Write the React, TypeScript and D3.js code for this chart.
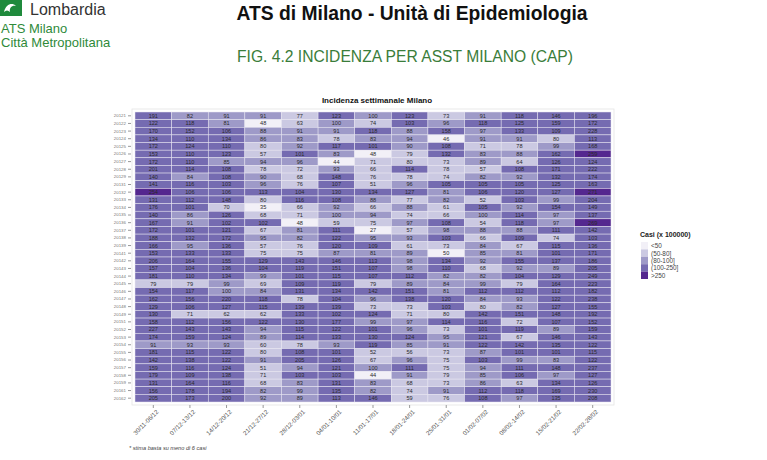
import React, { useEffect, useRef } from 'react';
import * as d3 from 'd3';

const WIDTH = 767;
const HEIGHT = 460;
const GRID = { left: 135, top: 112, right: 611, bottom: 402 };

const weeks = [
  '30/11-06/12', '07/12-13/12', '14/12-20/12', '21/12-27/12', '28/12-03/01',
  '04/01-10/01', '11/01-17/01', '18/01-24/01', '25/01-31/01', '01/02-07/02',
  '08/02-14/02', '15/02-21/02', '22/02-28/02',
];

const caps = [
  '20121', '20122', '20123', '20124', '20125', '20126', '20127', '20128', '20129',
  '20131', '20132', '20133', '20134', '20135', '20136', '20137', '20138', '20139',
  '20141', '20142', '20143', '20144', '20145', '20146', '20147', '20148', '20149',
  '20151', '20152', '20153', '20154', '20155', '20156', '20157', '20158', '20159',
  '20161', '20162',
];

// one row per CAP, one value per week
const incidence = [
  [191, 82, 91, 91, 77, 123, 100, 123, 73, 91, 118, 146, 196],
  [122, 118, 81, 48, 63, 100, 74, 103, 96, 118, 125, 159, 172],
  [170, 152, 106, 88, 91, 91, 118, 88, 158, 97, 133, 109, 228],
  [134, 110, 134, 86, 83, 78, 83, 94, 46, 91, 91, 80, 113],
  [172, 124, 110, 80, 92, 117, 101, 90, 108, 71, 78, 99, 168],
  [153, 110, 123, 57, 101, 83, 48, 79, 132, 83, 88, 162, 259],
  [172, 110, 85, 94, 96, 44, 71, 80, 73, 89, 64, 126, 124],
  [201, 114, 108, 78, 72, 93, 66, 114, 78, 57, 108, 171, 222],
  [140, 84, 108, 90, 68, 148, 76, 78, 74, 82, 92, 132, 174],
  [141, 116, 103, 96, 76, 107, 51, 96, 105, 105, 105, 125, 163],
  [254, 106, 106, 113, 104, 130, 134, 127, 81, 106, 120, 127, 271],
  [131, 112, 148, 80, 116, 108, 88, 77, 82, 52, 103, 99, 204],
  [176, 101, 70, 35, 66, 92, 66, 88, 61, 105, 92, 154, 149],
  [140, 86, 126, 68, 71, 100, 94, 74, 66, 100, 114, 97, 137],
  [167, 91, 102, 102, 48, 59, 75, 97, 108, 54, 118, 97, 269],
  [172, 101, 121, 67, 81, 111, 27, 57, 98, 88, 88, 111, 142],
  [188, 132, 172, 95, 82, 122, 95, 93, 103, 66, 109, 74, 103],
  [166, 95, 136, 57, 76, 120, 109, 61, 73, 84, 67, 115, 136],
  [153, 133, 133, 75, 75, 87, 81, 89, 50, 85, 81, 101, 171],
  [206, 164, 155, 129, 143, 146, 113, 98, 134, 92, 155, 137, 186],
  [157, 104, 136, 104, 119, 151, 107, 98, 110, 68, 92, 89, 205],
  [181, 110, 134, 99, 101, 115, 107, 112, 82, 82, 104, 129, 249],
  [79, 79, 99, 69, 109, 119, 79, 89, 84, 99, 79, 164, 223],
  [154, 117, 100, 84, 131, 134, 142, 151, 81, 112, 112, 112, 182],
  [162, 156, 220, 118, 78, 104, 96, 138, 120, 84, 93, 122, 238],
  [129, 106, 127, 115, 139, 139, 73, 73, 103, 80, 82, 127, 155],
  [130, 71, 62, 62, 133, 102, 124, 71, 80, 142, 151, 148, 192],
  [158, 112, 156, 122, 130, 177, 99, 97, 114, 116, 72, 107, 152],
  [227, 143, 143, 94, 115, 122, 101, 96, 73, 101, 119, 89, 159],
  [174, 159, 124, 89, 114, 133, 130, 124, 95, 121, 67, 146, 143],
  [91, 93, 93, 60, 78, 93, 119, 85, 91, 122, 142, 135, 122],
  [181, 115, 122, 80, 108, 101, 52, 56, 73, 87, 101, 101, 115],
  [142, 138, 122, 91, 205, 126, 67, 96, 75, 103, 99, 83, 122],
  [159, 116, 124, 51, 94, 121, 100, 111, 75, 94, 111, 148, 237],
  [179, 109, 138, 71, 103, 103, 44, 91, 79, 85, 106, 97, 127],
  [131, 164, 116, 68, 83, 131, 83, 68, 73, 86, 63, 134, 126],
  [156, 178, 194, 82, 99, 135, 82, 74, 91, 112, 118, 169, 230],
  [205, 173, 200, 92, 89, 113, 146, 59, 76, 108, 97, 135, 208],
];

const binLimits = [50, 80, 100, 250];
const binLabels = ['<50', '(50-80]', '(80-100]', '(100-250]', '>250'];
const binColors = ['#f2f0f7', '#cbc9e2', '#9e9ac8', '#756bb1', '#54278f'];

const FONT = 'Liberation Sans, Arial, sans-serif';

const App = () => {
  const chartRef = useRef(null);

  useEffect(() => {
    document.body.style.margin = '0';

    const root = d3.select(chartRef.current);
    root.selectAll('*').remove();

    const x = d3
      .scaleBand()
      .domain(weeks)
      .range([GRID.left, GRID.right]);

    const y = d3
      .scaleBand()
      .domain(caps)
      .range([GRID.top, GRID.bottom]);

    // bins are (a, b]
    const colorOf = (v) => binColors[d3.bisectLeft(binLimits, v)];

    const cells = caps.flatMap((cap, i) =>
      weeks.map((week, j) => ({ cap, week, value: incidence[i][j] }))
    );

    // panel frame
    root
      .append('rect')
      .attr('x', GRID.left - 3)
      .attr('y', GRID.top - 3)
      .attr('width', GRID.right - GRID.left + 6)
      .attr('height', GRID.bottom - GRID.top + 6)
      .attr('fill', 'none')
      .attr('stroke', '#e4e4e4')
      .attr('stroke-width', 0.8);

    const g = root.append('g');

    g.selectAll('rect')
      .data(cells)
      .join('rect')
      .attr('x', (d) => x(d.week))
      .attr('y', (d) => y(d.cap))
      .attr('width', x.bandwidth())
      .attr('height', y.bandwidth())
      .attr('fill', (d) => colorOf(d.value))
      .attr('stroke', '#e9e7f1')
      .attr('stroke-width', 0.5);

    g.selectAll('text')
      .data(cells)
      .join('text')
      .attr('x', (d) => x(d.week) + x.bandwidth() / 2)
      .attr('y', (d) => y(d.cap) + y.bandwidth() / 2)
      .attr('dy', '0.35em')
      .attr('text-anchor', 'middle')
      .attr('font-size', 5.6)
      .attr('font-family', FONT)
      .attr('fill', '#2a2a2a')
      .text((d) => d.value);

    const yAxis = root
      .append('g')
      .attr('transform', `translate(${GRID.left - 4},0)`)
      .call(d3.axisLeft(y).tickSize(3).tickPadding(2));
    yAxis.select('.domain').remove();
    yAxis.selectAll('line').attr('stroke', '#999');
    yAxis
      .selectAll('text')
      .attr('font-size', 4.4)
      .attr('font-family', FONT)
      .attr('fill', '#777');

    const xAxis = root
      .append('g')
      .attr('transform', `translate(0,${GRID.bottom + 3})`)
      .call(d3.axisBottom(x).tickSize(3).tickPadding(2));
    xAxis.select('.domain').remove();
    xAxis.selectAll('line').attr('stroke', '#999');
    xAxis
      .selectAll('text')
      .attr('font-size', 6.2)
      .attr('font-family', FONT)
      .attr('fill', '#555')
      .attr('text-anchor', 'end')
      .attr('dx', '0.2em')
      .attr('dy', '0.6em')
      .attr('transform', 'rotate(-45)')
      .style('transform-box', 'fill-box')
      .style('transform-origin', '100% 0%');

    // chart title
    root
      .append('text')
      .attr('x', (GRID.left + GRID.right) / 2 + 4)
      .attr('y', 103)
      .attr('text-anchor', 'middle')
      .attr('font-size', 8)
      .attr('font-weight', 'bold')
      .attr('font-family', FONT)
      .attr('fill', '#111')
      .text('Incidenza settimanale Milano');

    // legend
    const legend = root.append('g').attr('transform', 'translate(640,242)');
    legend
      .append('text')
      .attr('x', 0)
      .attr('y', -5)
      .attr('font-size', 7)
      .attr('font-weight', 'bold')
      .attr('font-family', FONT)
      .attr('fill', '#222')
      .text('Casi (x 100000)');
    const item = legend
      .selectAll('g.item')
      .data(binLabels)
      .join('g')
      .attr('class', 'item')
      .attr('transform', (d, i) => `translate(1,${i * 7.4})`);
    item
      .append('rect')
      .attr('width', 7)
      .attr('height', 7.4)
      .attr('fill', (d, i) => binColors[i]);
    item
      .append('text')
      .attr('x', 10)
      .attr('y', 3.9)
      .attr('dy', '0.35em')
      .attr('font-size', 6.4)
      .attr('font-family', FONT)
      .attr('fill', '#444')
      .text((d) => d);

    // footnote
    root
      .append('text')
      .attr('x', 129)
      .attr('y', 450)
      .attr('font-size', 5.6)
      .attr('font-style', 'italic')
      .attr('font-family', FONT)
      .attr('fill', '#444')
      .text('* stima basta su meno di 6 casi');
  }, []);

  return (
    <svg
      width={WIDTH}
      height={HEIGHT}
      style={{ display: 'block', background: '#fff', fontFamily: FONT }}
    >
      {/* page header */}
      <rect x={0} y={-6} width={22} height={22} fill="#1f8a3c" />
      <path d="M4,12 C6,4 12,2 16,6 C12,5 9,8 10,12 C8,10 6,10 4,12 Z" fill="#fff" />
      <text x={30} y={15} fontSize={16} fill="#333">Lombardia</text>
      <text x={1} y={33} fontSize={13} fill="#2f8a3a">ATS Milano</text>
      <text x={1} y={47} fontSize={13} fill="#2f8a3a">Città Metropolitana</text>
      <text
        x={412}
        y={20}
        textAnchor="middle"
        fontSize={20}
        fontWeight="bold"
        fill="#111"
        textLength={351}
        lengthAdjust="spacingAndGlyphs"
      >
        ATS di Milano - Unità di Epidemiologia
      </text>
      <text
        x={405}
        y={62}
        textAnchor="middle"
        fontSize={16}
        fill="#3a7d3a"
        textLength={336}
        lengthAdjust="spacingAndGlyphs"
      >
        FIG. 4.2 INCIDENZA PER ASST MILANO (CAP)
      </text>
      <g ref={chartRef} />
    </svg>
  );
};

export default App;
